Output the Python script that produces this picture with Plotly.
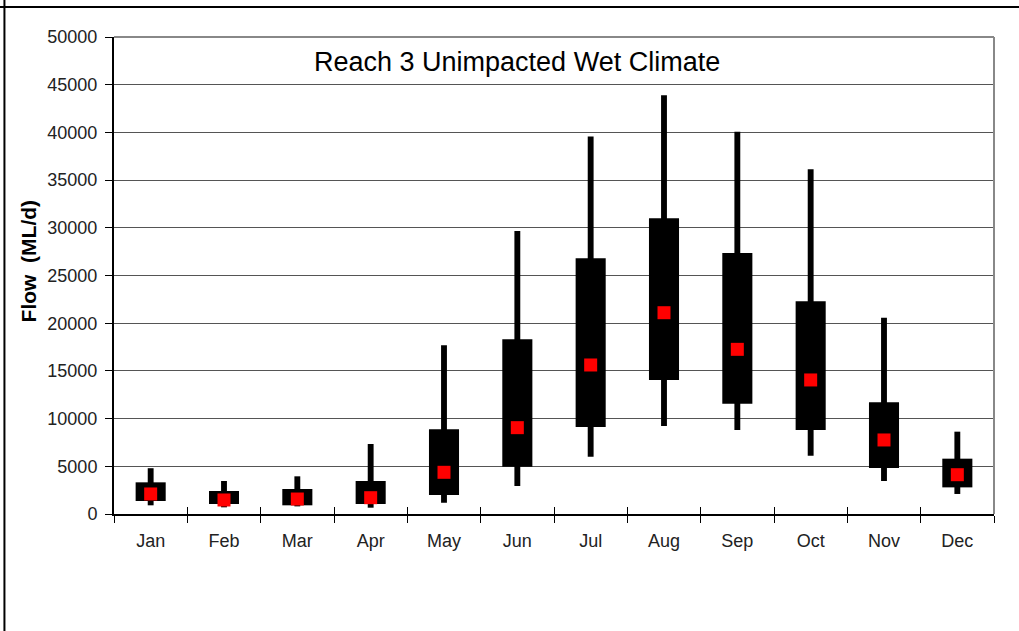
import plotly.graph_objects as go

months = ["Jan", "Feb", "Mar", "Apr", "May", "Jun", "Jul", "Aug", "Sep", "Oct", "Nov", "Dec"]
whisker_min = [910, 700, 800, 660, 1190, 2940, 6010, 9220, 8800, 6110, 3460, 2100]
box_low = [1360, 1050, 910, 1050, 1990, 4960, 9120, 14050, 11560, 8800, 4820, 2790]
box_high = [3320, 2410, 2620, 3460, 8880, 18310, 26800, 30990, 27360, 22290, 11710, 5800]
whisker_max = [4800, 3460, 3950, 7340, 17700, 29670, 39560, 43890, 40070, 36130, 20580, 8630]
centre = [2100, 1470, 1570, 1710, 4370, 9050, 15620, 21100, 17260, 14050, 7760, 4120]

title_text = "Reach 3 Unimpacted Wet Climate"
y_title = "Flow  (ML/d)"

fig = go.Figure()
fig.add_trace(go.Bar(
    x=months, y=[hi - lo for lo, hi in zip(whisker_min, whisker_max)], base=whisker_min,
    width=0.08, marker=dict(color="black", line=dict(width=0)), showlegend=False, hoverinfo="skip"))
fig.add_trace(go.Bar(
    x=months, y=[hi - lo for lo, hi in zip(box_low, box_high)], base=box_low,
    width=0.41, marker=dict(color="black", line=dict(width=0)), showlegend=False, hoverinfo="skip"))
fig.add_trace(go.Scatter(
    x=months, y=centre, mode="markers",
    marker=dict(symbol="square", size=13, color="#ff0000", line=dict(width=0)), showlegend=False))
# invisible trace for the overlaid crossing tick axis
fig.add_trace(go.Scatter(x=months, y=centre, xaxis="x2", mode="markers",
                         marker=dict(opacity=0), showlegend=False, hoverinfo="skip"))

font_family = "Liberation Sans, Arial, sans-serif"
fig.update_layout(
    width=1019, height=631,
    margin=dict(l=114, r=25, t=37, b=117, autoexpand=False),
    paper_bgcolor="white", plot_bgcolor="white",
    barmode="overlay",
    font=dict(family=font_family, color="black", size=18),
    xaxis=dict(
        type="category", categoryorder="array", categoryarray=months,
        showline=True, linecolor="black", linewidth=2,
        ticks="outside", tickson="boundaries", ticklen=7, tickcolor="black", tickwidth=1,
        showgrid=False, tickfont=dict(size=18, color="#222222"), range=[-0.5, 11.5],
        ticklabelstandoff=9, automargin=False,
    ),
    xaxis2=dict(
        type="category", categoryorder="array", categoryarray=months,
        overlaying="x", matches="x", side="bottom", showline=False,
        ticks="inside", tickson="boundaries", ticklen=7, tickcolor="black", tickwidth=1,
        showticklabels=False, showgrid=False,
    ),
    yaxis=dict(
        range=[0, 50000], dtick=5000, tick0=0, tickformat="d",
        showline=True, linecolor="black", linewidth=2,
        ticks="outside", ticklen=7, tickcolor="black", tickwidth=1,
        showgrid=True, gridcolor="#555555", gridwidth=1, zeroline=False,
        tickfont=dict(size=18, color="#222222"), ticklabelstandoff=4, automargin=False,
    ),
    annotations=[
        dict(text=title_text, xref="paper", yref="paper", x=0.458, y=0.9476,
             xanchor="center", yanchor="middle", showarrow=False,
             font=dict(size=27, family=font_family, color="black")),
        dict(text="<b>" + y_title + "</b>", xref="paper", yref="paper", x=-0.0975, y=0.530,
             xanchor="center", yanchor="middle", textangle=-90, showarrow=False,
             font=dict(size=21, family=font_family, color="black")),
    ],
    shapes=[
        dict(type="line", xref="paper", yref="paper", x0=0, x1=1, y0=1, y1=1,
             line=dict(color="#888888", width=2)),
        dict(type="line", xref="paper", yref="paper", x0=1, x1=1, y0=0, y1=1,
             line=dict(color="#888888", width=2)),
        dict(type="line", xref="paper", yref="paper", x0=-0.13, x1=1.05, y0=1.0629, y1=1.0629,
             line=dict(color="black", width=2)),
        dict(type="line", xref="paper", yref="paper", x0=-0.1245, x1=-0.1245, y0=-0.3, y1=1.1,
             line=dict(color="black", width=2)),
    ],
)

fig.write_html("out.html", config={"displayModeBar": False},
               post_script="document.body.style.margin='0px';document.body.style.overflow='hidden';")
